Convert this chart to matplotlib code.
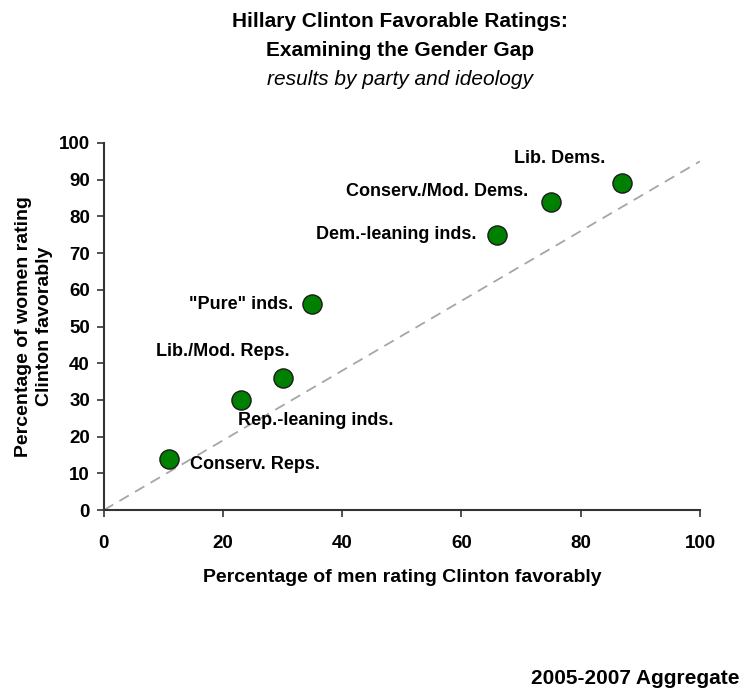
import numpy as np
import matplotlib.pyplot as plt

plt.rcParams["font.family"] = ["Liberation Sans", "DejaVu Sans"]

# Percentual favorável entre homens (x) e mulheres (y)
groups = ["Lib. Dems.", "Conserv./Mod. Dems.", "Dem.-leaning inds.", '"Pure" inds.',
          "Lib./Mod. Reps.", "Rep.-leaning inds.", "Conserv. Reps."]
men = [87, 75, 66, 35, 30, 23, 11]
women = [89, 84, 75, 56, 36, 30, 14]

# Linha de referência tracejada
ref_x = [0, 100]
ref_y = [0, 95]

# Posição de cada rótulo em relação ao ponto (deslocamento em pontos, alinhamento)
label_pos = [
    ((-45, 18), "center", "center"),
    ((-16, 7), "right", "center"),
    ((-15, 0), "right", "center"),
    ((-14, 0), "right", "center"),
    ((-43, 19), "center", "center"),
    ((-2, -9), "left", "top"),
    ((15, -4), "left", "center"),
]

fig = plt.figure(figsize=(7.47, 6.94), dpi=100)
fig.patch.set_facecolor("white")
ax = fig.add_axes([0.139, 0.265, 0.798, 0.529])

ax.plot(ref_x, ref_y, color="#a6a6a6", lw=1.3, ls=(0, (6, 4)), zorder=1)
ax.scatter(men, women, s=190, c="#008000", edgecolors="#1a1a1a", linewidths=1.0, zorder=3)

for g, x, y, (off, ha, va) in zip(groups, men, women, label_pos):
    ax.annotate(g, (x, y), xytext=off, textcoords="offset points",
                ha=ha, va=va, fontsize=13, fontweight="bold", color="black")

ax.set_xlim(0, 100)
ax.set_ylim(0, 100)
ax.set_xticks(np.arange(0, 101, 20))
ax.set_yticks(np.arange(0, 101, 10))

for s in ["top", "right"]:
    ax.spines[s].set_visible(False)
for s in ["left", "bottom"]:
    ax.spines[s].set_color("#333333")
    ax.spines[s].set_linewidth(1.5)

ax.tick_params(direction="out", length=5, width=1.2, color="#333333",
               labelsize=13.5, pad=5)
for lbl in ax.get_xticklabels() + ax.get_yticklabels():
    lbl.set_fontweight("bold")
ax.tick_params(axis="x", pad=13)

ax.set_xlabel("Percentage of men rating Clinton favorably",
              fontsize=14, fontweight="bold", labelpad=12)
ax.set_ylabel("Percentage of women rating\nClinton favorably",
              fontsize=14, fontweight="bold", labelpad=4, linespacing=1.3)

fig.text(0.535, 0.969, "Hillary Clinton Favorable Ratings:",
         ha="center", va="center", fontsize=15, fontweight="bold")
fig.text(0.535, 0.927, "Examining the Gender Gap",
         ha="center", va="center", fontsize=15, fontweight="bold")
fig.text(0.535, 0.885, "results by party and ideology",
         ha="center", va="center", fontsize=15, fontstyle="italic")

fig.text(0.99, 0.022, "2005-2007 Aggregate", ha="right", va="center",
         fontsize=15, fontweight="bold")

fig.savefig("out.png", dpi=100, facecolor="white")
plt.close(fig)
